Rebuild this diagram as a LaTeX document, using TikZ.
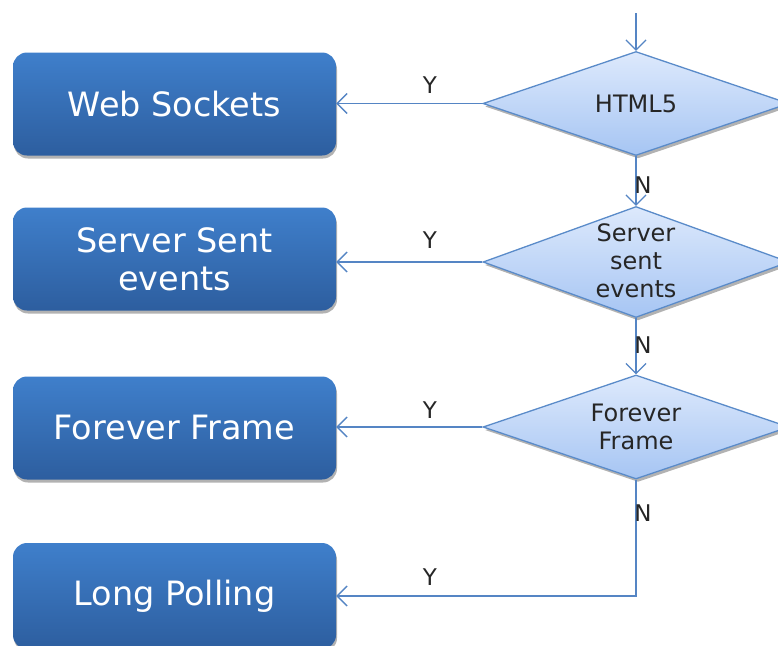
\documentclass[tikz,border=0pt]{standalone}
\usepackage{fontspec}
\setmainfont{DejaVu Sans}
\usetikzlibrary{shapes.geometric,arrows.meta,shadows}
\definecolor{boxtop}{HTML}{3F7FCB}
\definecolor{boxbot}{HTML}{2D5E9F}
\definecolor{dtop}{HTML}{DDE9FC}
\definecolor{dbot}{HTML}{A6C5F3}
\definecolor{lineblue}{HTML}{5585C4}
\definecolor{dborder}{HTML}{5A8BC9}
\tikzset{
  stepbox/.style={rectangle, rounded corners=14pt, minimum width=323pt, minimum height=103pt,
    top color=boxtop, bottom color=boxbot, draw=none, text=white,
    font=\fontsize{33.5}{38}\selectfont, align=center, inner sep=0pt,
    drop shadow={shadow xshift=1pt, shadow yshift=-3pt, opacity=0.3, fill=black}},
  decision/.style={diamond, minimum width=306pt, minimum height=104pt, inner sep=0pt,
    draw=dborder, line width=1.3pt, top color=dtop, bottom color=dbot,
    drop shadow={shadow xshift=2pt, shadow yshift=-3pt, opacity=0.3, fill=black}},
  dtext/.style={font=\fontsize{24}{28}\selectfont, align=center, text=black!85, inner sep=0pt},
  yn/.style={font=\fontsize{23}{24}\selectfont, text=black!85, inner sep=0pt},
  conn/.style={draw=lineblue, line width=1.3pt, -{Straight Barb[length=10pt,width=20pt,line width=1.3pt]}},
}
\begin{document}
\begin{tikzpicture}[x=1pt,y=-1pt]
\useasboundingbox (0,0) rectangle (778,645);
\clip (0,0) rectangle (778,645);
% boxes
\node[stepbox] (b1) at (174.5,104) {Web Sockets};
\node[stepbox] (b2) at (174.5,259) {Server Sent\\events};
\node[stepbox] (b3) at (174.5,428) {Forever Frame};
\node[stepbox, minimum height=106pt] (b4) at (174.5,596) {Long Polling};
% decisions
\node[decision] (d1) at (636,103.5) {};
\node[decision, minimum height=111pt] (d2) at (636,262) {};
\node[decision] (d3) at (636,427) {};
\node[dtext] (t1) at (636,103.5) {HTML5};
\node[dtext] (t2) at (636,261) {Server\\sent\\events};
\node[dtext] (t3) at (636,427) {Forever\\Frame};
% connectors
\coordinate (start) at (636,13);
\coordinate (bend) at (636,596);
\draw[conn] (start) -- (d1.north);
\draw[conn] (d1.west) -- (d1.west -| b1.east);
\draw[conn] (d2.west) -- (d2.west -| b2.east);
\draw[conn] (d3.west) -- (d3.west -| b3.east);
\draw[conn] (d1.south) -- (d2.north);
\draw[conn] (d2.south) -- (d3.north);
\draw[conn] (d3.south) -- (bend) -- (bend -| b4.east);
% labels
\node[yn] (y1) at (430,85) {Y};
\node[yn] (y2) at (430,240) {Y};
\node[yn] (y3) at (430,410) {Y};
\node[yn] (y4) at (430,577) {Y};
\node[yn] (n1) at (643,185) {N};
\node[yn] (n2) at (643,345) {N};
\node[yn] (n3) at (643,513) {N};
\end{tikzpicture}
\end{document}
